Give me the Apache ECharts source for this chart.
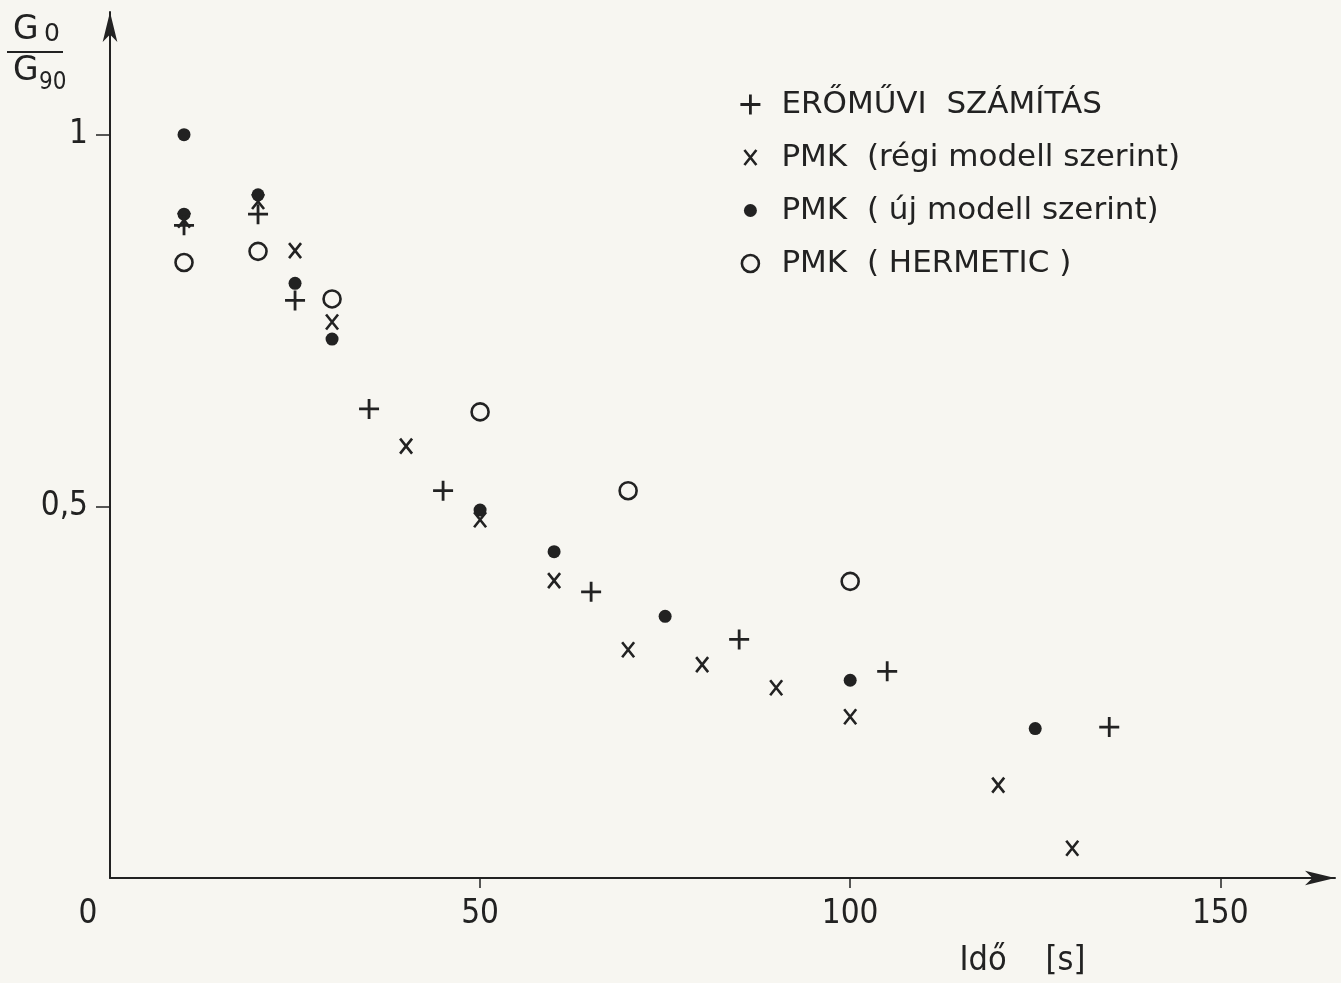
<!DOCTYPE html>
<html>
<head>
<meta charset="utf-8">
<script src="https://cdn.jsdelivr.net/npm/echarts@6/dist/echarts.min.js"></script>
<style>
  html, body { margin: 0; padding: 0; background: #f7f6f1; }
  #chart { width: 1341px; height: 983px; }
</style>
</head>
<body>
<div id="chart"></div>
<script>
// + ERŐMŰVI SZÁMÍTÁS
var plusTime  = [10, 20, 25, 35, 45, 65, 85, 105, 135];
var plusRatio = [0.878, 0.893, 0.777, 0.631, 0.521, 0.385, 0.321, 0.278, 0.203];

// x PMK (régi modell szerint)
var oldTime  = [10, 20, 25, 30, 40, 50, 60, 70, 80, 90, 100, 120, 130];
var oldRatio = [0.885, 0.910, 0.844, 0.748, 0.581, 0.482, 0.400, 0.307, 0.287, 0.256, 0.217, 0.125, 0.040];

// • PMK (új modell szerint)
var newTime  = [10, 10, 20, 25, 30, 50, 60, 75, 100, 125];
var newRatio = [1.0, 0.893, 0.919, 0.800, 0.725, 0.495, 0.439, 0.352, 0.266, 0.201];

// o PMK (HERMETIC)
var hermTime  = [10, 20, 30, 50, 70, 100];
var hermRatio = [0.828, 0.843, 0.779, 0.627, 0.521, 0.399];

var xTicks = [0, 50, 100, 150];
var yTicks = [0.5, 1];

var names = ['ERŐMŰVI  SZÁMÍTÁS', 'PMK  (régi modell szerint)', 'PMK  ( új modell szerint)', 'PMK  ( HERMETIC )'];

var ink = '#222';
var numFont = '"Liberation Sans Narrow", "DejaVu Sans Condensed", sans-serif';

function pairs(xs, ys) {
  return xs.map(function (x, i) { return [x, ys[i]]; });
}

// symbols in a common 20x20 frame so sizes stay relative
var symPlus  = 'path://M10,0 L10,20 M0,10 L20,10';
var symCross = 'path://M0,0 M20,20 M4,2.5 L16,17.5 M16,2.5 L4,17.5';
var symDot   = 'path://M0,0 M20,20 M3.5,10 A6.5,6.5 0 1 1 16.5,10 A6.5,6.5 0 1 1 3.5,10 Z';
var symRing  = 'path://M0,0 M20,20 M1.5,10 A8.5,8.5 0 1 1 18.5,10 A8.5,8.5 0 1 1 1.5,10 Z';

var myChart = echarts.init(document.getElementById('chart'));

var option = {
  backgroundColor: '#f7f6f1',
  animation: false,
  grid: { left: 110, right: 6, top: 12, bottom: 103 },
  legend: {
    orient: 'vertical',
    left: 734,
    top: 84,
    itemWidth: 20,
    itemHeight: 20,
    itemGap: 22,
    textStyle: { fontFamily: '"DejaVu Sans", sans-serif', fontSize: 31, color: ink, padding: [0, 0, 0, 16] },
    data: [
      { name: names[0], itemStyle: { borderWidth: 2.8, opacity: 1 } },
      { name: names[1], itemStyle: { borderWidth: 2.6, opacity: 1 } },
      { name: names[2], itemStyle: { borderWidth: 0, opacity: 1 } },
      { name: names[3], itemStyle: { borderWidth: 2.6, opacity: 1 } }
    ]
  },
  xAxis: {
    type: 'value',
    min: 0,
    max: 165.5,
    interval: 50,
    splitLine: { show: false },
    axisLine: { show: true, lineStyle: { color: ink, width: 2 }, symbol: ['none', 'arrow'], symbolSize: [11, 30] },
    axisTick: { show: true, customValues: [50, 100, 150], length: 10, lineStyle: { color: ink, width: 1.5 } },
    axisLabel: {
      customValues: xTicks,
      margin: 20,
      color: ink,
      fontFamily: numFont,
      fontSize: 33,
      formatter: function (v) { return v === 0 ? '{z|0}' : String(v); },
      rich: { z: { fontFamily: numFont, fontSize: 33, color: ink, padding: [0, 44, 0, 0] } }
    },
    name: 'Idő    [s]',
    nameLocation: 'middle',
    nameGap: 66,
    nameTextStyle: { fontFamily: numFont, fontSize: 34, color: ink, padding: [0, 0, 0, 600] }
  },
  yAxis: {
    type: 'value',
    min: 0,
    max: 1.165,
    interval: 0.5,
    splitLine: { show: false },
    axisLine: { show: true, lineStyle: { color: ink, width: 2 }, symbol: ['none', 'arrow'], symbolSize: [11, 30] },
    axisTick: { show: true, customValues: yTicks, length: 14, lineStyle: { color: ink, width: 1.5 } },
    axisLabel: {
      customValues: yTicks,
      margin: 22,
      color: ink,
      fontFamily: numFont,
      fontSize: 33,
      formatter: function (v) { return String(v).replace('.', ','); }
    }
  },
  graphic: [
    { type: 'text', left: 13, top: 14, style: { text: 'G', font: '33px "DejaVu Sans"', fill: ink } },
    { type: 'text', left: 44, top: 22, style: { text: '0', font: '25px "DejaVu Sans"', fill: ink } },
    { type: 'line', shape: { x1: 7, y1: 52, x2: 63, y2: 52 }, style: { stroke: ink, lineWidth: 2 } },
    { type: 'text', left: 13, top: 55, style: { text: 'G', font: '33px "DejaVu Sans"', fill: ink } },
    { type: 'text', left: 39, top: 71, style: { text: '90', font: '24px "DejaVu Sans Condensed"', fill: ink } }
  ],
  series: [
    {
      name: names[3], type: 'scatter', symbol: symRing, symbolSize: 20,
      itemStyle: { color: 'rgba(0,0,0,0)', borderColor: ink, borderWidth: 2.6, opacity: 1 },
      data: pairs(hermTime, hermRatio)
    },
    {
      name: names[2], type: 'scatter', symbol: symDot, symbolSize: 20,
      itemStyle: { color: ink, borderWidth: 0, opacity: 1 },
      data: pairs(newTime, newRatio)
    },
    {
      name: names[1], type: 'scatter', symbol: symCross, symbolSize: 20,
      itemStyle: { color: 'rgba(0,0,0,0)', borderColor: ink, borderWidth: 2.6, opacity: 1 },
      data: pairs(oldTime, oldRatio)
    },
    {
      name: names[0], type: 'scatter', symbol: symPlus, symbolSize: 20,
      itemStyle: { color: 'rgba(0,0,0,0)', borderColor: ink, borderWidth: 2.8, opacity: 1 },
      data: pairs(plusTime, plusRatio)
    }
  ]
};

myChart.setOption(option);
</script>
</body>
</html>
